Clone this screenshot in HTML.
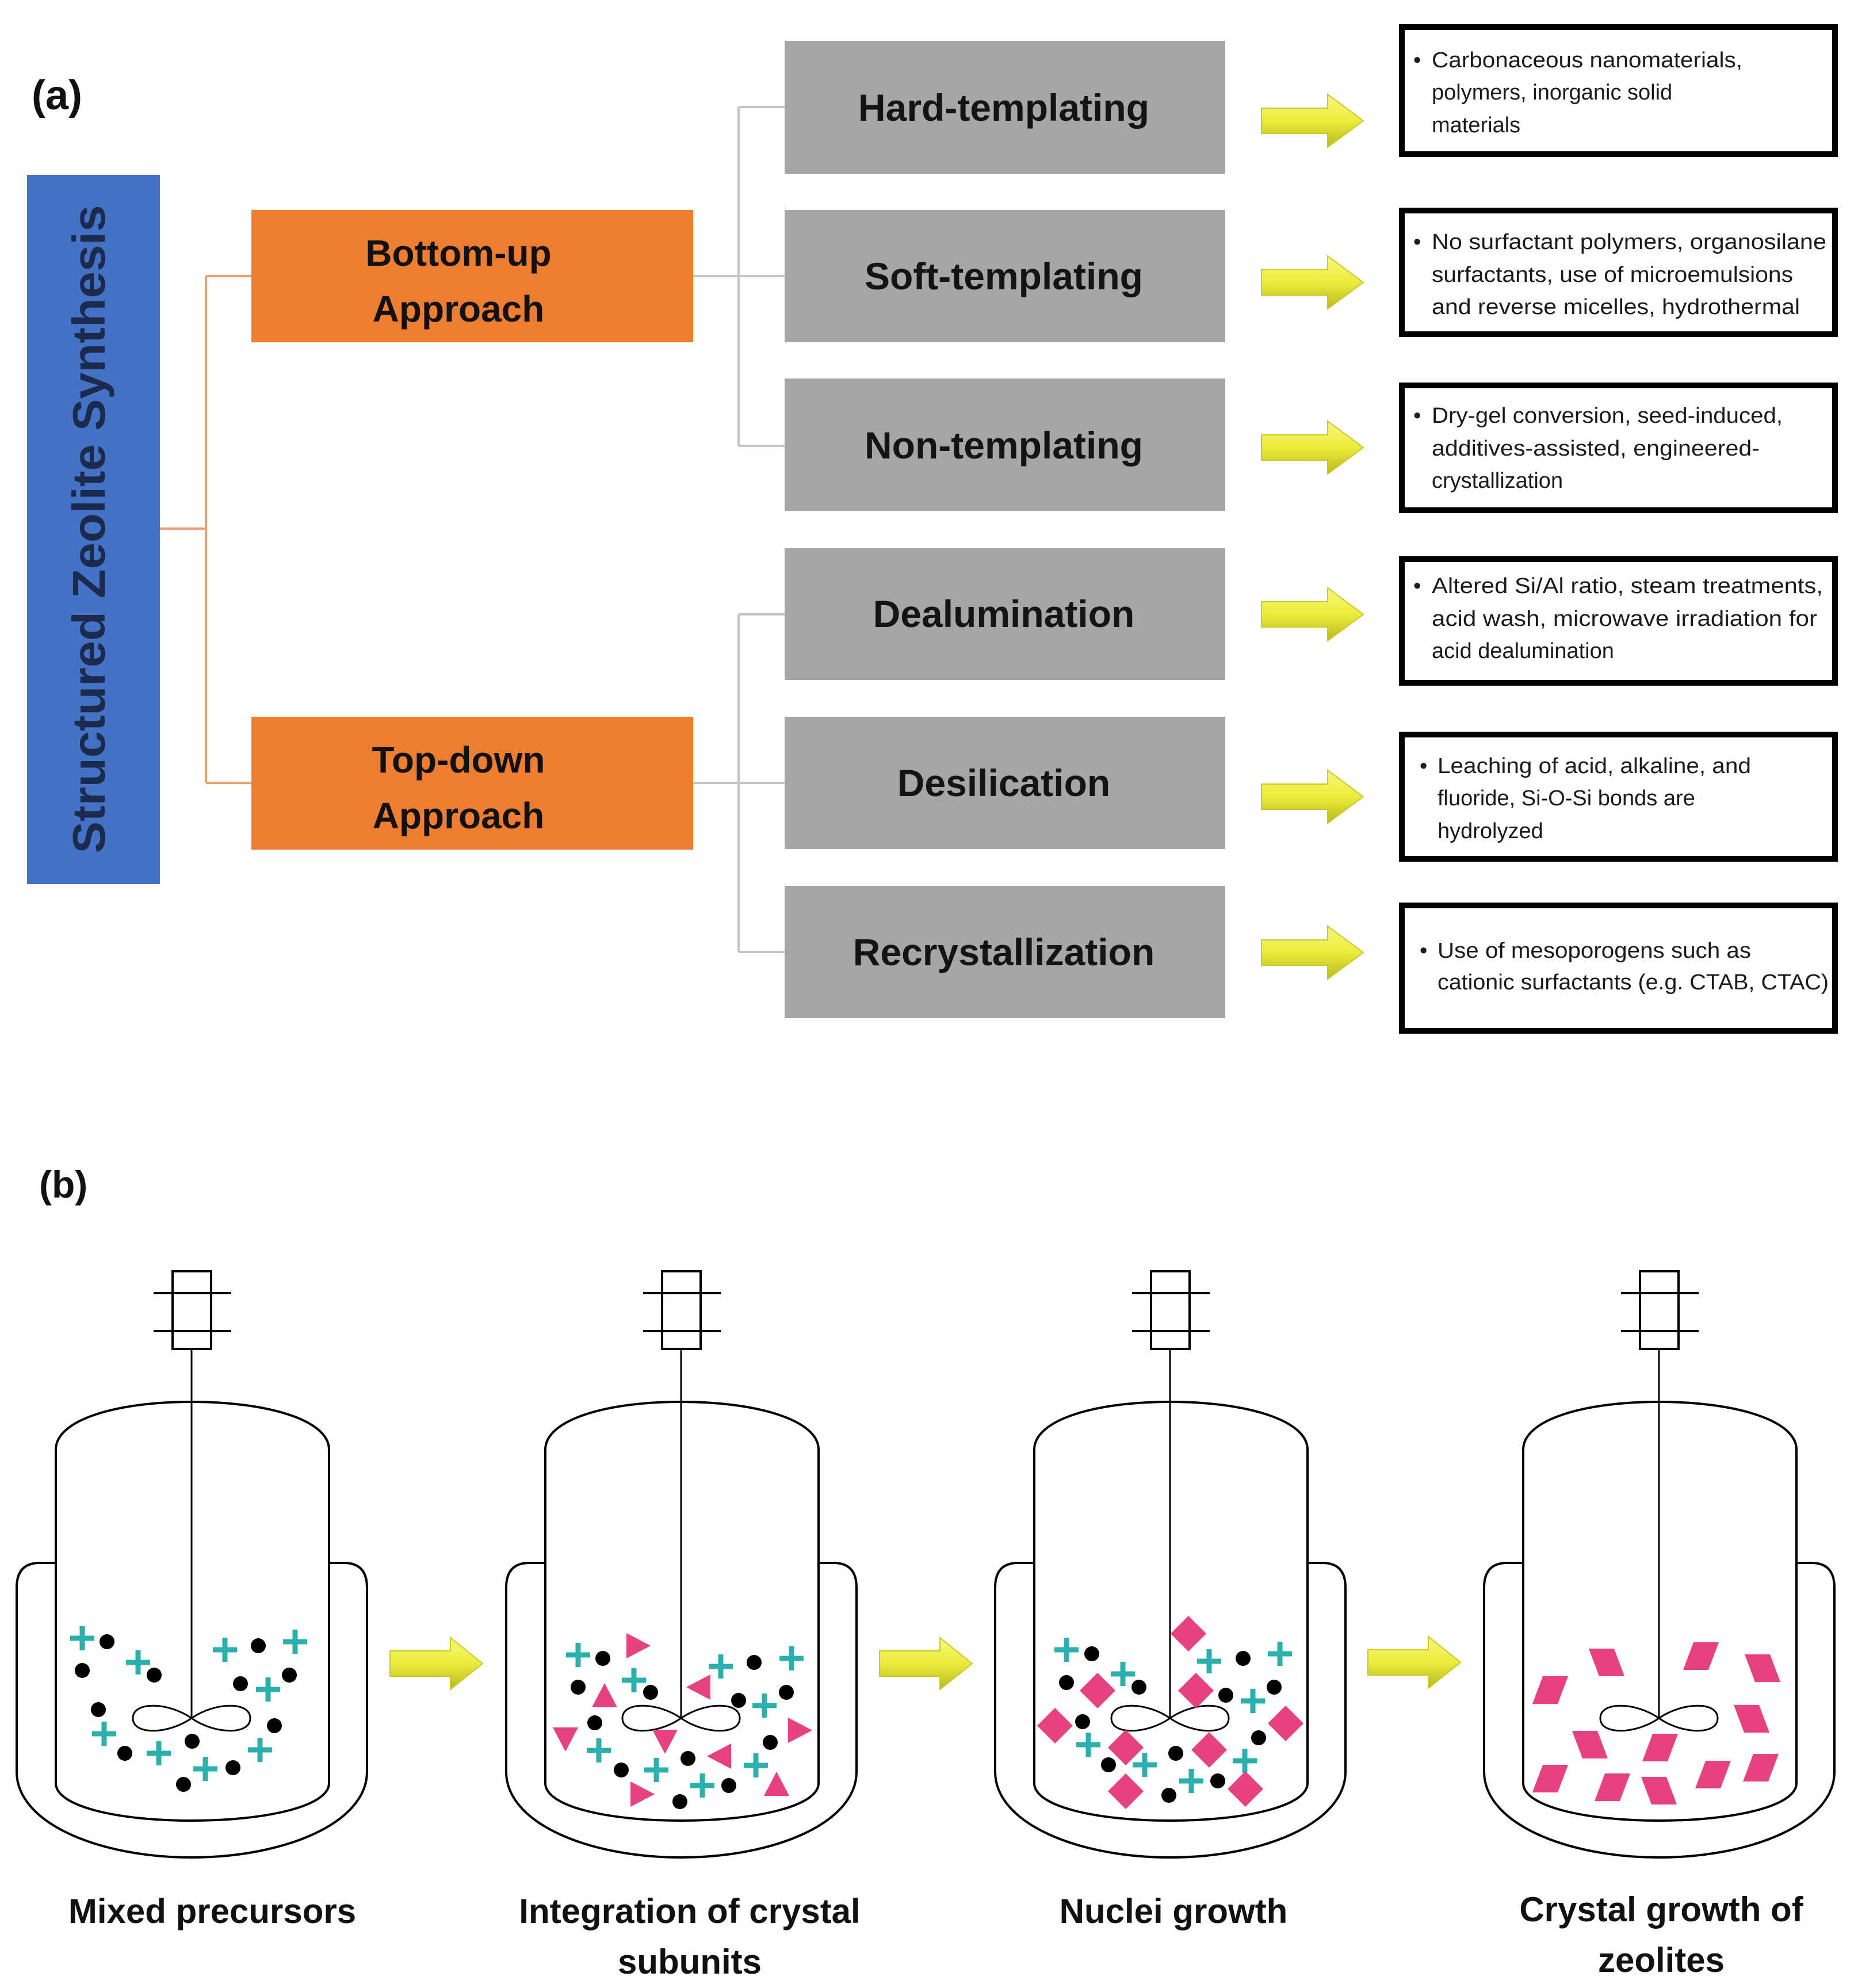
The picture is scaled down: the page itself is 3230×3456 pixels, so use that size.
<!DOCTYPE html>
<html><head><meta charset="utf-8"><style>html,body{margin:0;padding:0;background:#fff}svg{display:block}</style></head>
<body>
<svg xmlns="http://www.w3.org/2000/svg" width="3230" height="3456" viewBox="0 0 3230 3456" font-family="Liberation Sans, sans-serif">
<defs>
<linearGradient id="yg" x1="0" y1="0" x2="0" y2="1">
<stop offset="0" stop-color="#f7f77a"/><stop offset="0.5" stop-color="#ecec3c"/><stop offset="1" stop-color="#b8b820"/>
</linearGradient>
<path id="arT" d="M0,-22 H115 V-46 L177,0 L115,46 V22 H0 Z" fill="url(#yg)" stroke="#c9c92a" stroke-width="2"/>
<path id="arB" d="M0,-22 H105 V-45 L161,0 L105,45 V22 H0 Z" fill="url(#yg)" stroke="#c9c92a" stroke-width="2"/>
<g id="reactor" fill="none" stroke="#000" stroke-width="4">
<rect x="-33" y="2210" width="67" height="135" fill="#fff"/>
<line x1="-66" y1="2248" x2="69" y2="2248"/>
<line x1="-66" y1="2314" x2="69" y2="2314"/>
<line x1="0" y1="2345" x2="0" y2="2987" stroke-width="3"/>
<path d="M-236,3100 V2520 C-236,2468 -130,2437 0,2437 C130,2437 239,2468 239,2520 V3100 C239,3140 130,3165 0,3165 C-130,3165 -236,3140 -236,3100 Z"/>
<path d="M-236,2717 H-264 Q-304,2717 -304,2760 V3080 C-304,3170 -160,3229 0,3229 C160,3229 305,3170 305,3080 V2760 Q305,2717 265,2717 H239"/>
<path d="M0,2987 C-40,2959 -102,2957 -102,2987 C-102,3017 -40,3015 0,2987 C40,2959 102,2957 102,2987 C102,3017 40,3015 0,2987 Z" stroke-width="3"/>
</g>
<path id="pl" d="M-21,0 H21 M0,-21 V21" stroke="#2bb0ad" stroke-width="9" fill="none"/>
<circle id="dt" r="13" fill="#000"/>
<polygon id="tR" points="-18,-22 24,0 -18,22" fill="#e8417f"/>
<polygon id="tL" points="18,-22 -24,0 18,22" fill="#e8417f"/>
<polygon id="tU" points="-22,18 0,-24 22,18" fill="#e8417f"/>
<polygon id="tD" points="-22,-18 0,24 22,-18" fill="#e8417f"/>
<polygon id="dm" points="0,-31 31,0 0,31 -31,0" fill="#e8417f"/>
<polygon id="pf" points="-13,-24 31,-24 13,24 -31,24" fill="#e8417f"/>
<polygon id="pb" points="-31,-24 13,-24 31,24 -13,24" fill="#e8417f"/>
</defs>

<!-- (a) -->
<text x="55" y="190" font-size="72" font-weight="bold" fill="#111">(a)</text>

<!-- blue box -->
<rect x="47" y="304" width="231" height="1233" fill="#4472c4"/>
<text transform="translate(182,920) rotate(-90)" text-anchor="middle" font-size="80" font-weight="bold" fill="#1c2a4e" textLength="1127" lengthAdjust="spacingAndGlyphs">Structured Zeolite Synthesis</text>

<!-- orange connectors -->
<g stroke="#f0a070" stroke-width="4" fill="none">
<path d="M278,919 H358 M358,480 V1361 M358,480 H437 M358,1361 H437"/>
</g>
<rect x="437" y="365" width="768" height="230" fill="#ed7d31"/>
<rect x="437" y="1246" width="768" height="231" fill="#ed7d31"/>
<g font-size="64" font-weight="bold" fill="#111" text-anchor="middle">
<text x="797" y="462">Bottom-up</text><text x="797" y="559">Approach</text>
<text x="797" y="1343">Top-down</text><text x="797" y="1440">Approach</text>
</g>

<!-- gray connectors -->
<g stroke="#c4c4c4" stroke-width="4" fill="none">
<path d="M1205,480 H1364 M1284,186 V775 M1284,186 H1364 M1284,775 H1364"/>
<path d="M1205,1361 H1364 M1284,1068 V1655 M1284,1068 H1364 M1284,1655 H1364"/>
</g>
<g fill="#a6a6a6">
<rect x="1364" y="71" width="766" height="231"/>
<rect x="1364" y="365" width="766" height="230"/>
<rect x="1364" y="658" width="766" height="230"/>
<rect x="1364" y="953" width="766" height="229"/>
<rect x="1364" y="1246" width="766" height="230"/>
<rect x="1364" y="1540" width="766" height="230"/>
</g>
<g font-size="66" font-weight="bold" fill="#141414" text-anchor="middle">
<text x="1745" y="210">Hard-templating</text>
<text x="1745" y="503">Soft-templating</text>
<text x="1745" y="797">Non-templating</text>
<text x="1745" y="1090">Dealumination</text>
<text x="1745" y="1384">Desilication</text>
<text x="1745" y="1678">Recrystallization</text>
</g>

<!-- arrows top -->
<use href="#arT" x="2193" y="210"/>
<use href="#arT" x="2193" y="491"/>
<use href="#arT" x="2193" y="778"/>
<use href="#arT" x="2193" y="1068"/>
<use href="#arT" x="2193" y="1385"/>
<use href="#arT" x="2193" y="1656"/>

<!-- right boxes -->
<g fill="#fff" stroke="#000" stroke-width="10">
<rect x="2437" y="47" width="753" height="221"/>
<rect x="2437" y="366" width="753" height="215"/>
<rect x="2437" y="670" width="753" height="217"/>
<rect x="2437" y="972" width="753" height="215"/>
<rect x="2437" y="1277" width="753" height="216"/>
<rect x="2437" y="1574" width="753" height="218"/>
</g>
<g font-size="38" fill="#1a1a1a">
<text x="2457" y="117">•</text>
<text x="2489" y="117" textLength="540" lengthAdjust="spacingAndGlyphs">Carbonaceous nanomaterials,</text>
<text x="2489" y="173">polymers, inorganic solid</text>
<text x="2489" y="230">materials</text>

<text x="2457" y="433">•</text>
<text x="2489" y="433" textLength="686" lengthAdjust="spacingAndGlyphs">No surfactant polymers, organosilane</text>
<text x="2489" y="490" textLength="628" lengthAdjust="spacingAndGlyphs">surfactants, use of microemulsions</text>
<text x="2489" y="546" textLength="640" lengthAdjust="spacingAndGlyphs">and reverse micelles, hydrothermal</text>

<text x="2457" y="735">•</text>
<text x="2489" y="735" textLength="610" lengthAdjust="spacingAndGlyphs">Dry-gel conversion, seed-induced,</text>
<text x="2489" y="792" textLength="570" lengthAdjust="spacingAndGlyphs">additives-assisted, engineered-</text>
<text x="2489" y="848">crystallization</text>

<text x="2457" y="1031">•</text>
<text x="2489" y="1031" textLength="680" lengthAdjust="spacingAndGlyphs">Altered Si/Al ratio, steam treatments,</text>
<text x="2489" y="1088" textLength="670" lengthAdjust="spacingAndGlyphs">acid  wash, microwave irradiation for</text>
<text x="2489" y="1144">acid dealumination</text>

<text x="2468" y="1344">•</text>
<text x="2499" y="1344" textLength="545" lengthAdjust="spacingAndGlyphs">Leaching of acid, alkaline, and</text>
<text x="2499" y="1400">fluoride,  Si-O-Si bonds are</text>
<text x="2499" y="1457">hydrolyzed</text>

<text x="2468" y="1665">•</text>
<text x="2499" y="1665" textLength="545" lengthAdjust="spacingAndGlyphs">Use of mesoporogens such as</text>
<text x="2499" y="1720" textLength="680" lengthAdjust="spacingAndGlyphs">cationic surfactants (e.g. CTAB, CTAC)</text>
</g>

<!-- (b) -->
<text x="68" y="2082" font-size="66" font-weight="bold" fill="#111">(b)</text>

<!-- reactors -->
<use href="#reactor" x="333" y="0"/>
<use href="#reactor" x="1184" y="0"/>
<use href="#reactor" x="2034" y="0"/>
<use href="#reactor" x="2884" y="0"/>

<!-- bottom arrows -->
<use href="#arB" x="678" y="2892"/>
<use href="#arB" x="1529" y="2892"/>
<use href="#arB" x="2378" y="2890"/>

<!-- reactor 1 particles -->
<use href="#pl" x="143" y="2848"/><use href="#pl" x="240" y="2890"/><use href="#pl" x="391" y="2868"/><use href="#pl" x="513" y="2854"/><use href="#pl" x="466" y="2937"/><use href="#pl" x="181" y="3014"/><use href="#pl" x="276" y="3048"/><use href="#pl" x="357" y="3075"/><use href="#pl" x="452" y="3042"/>
<use href="#dt" x="186" y="2854"/><use href="#dt" x="143" y="2904"/><use href="#dt" x="268" y="2912"/><use href="#dt" x="449" y="2861"/><use href="#dt" x="418" y="2927"/><use href="#dt" x="503" y="2912"/><use href="#dt" x="171" y="2972"/><use href="#dt" x="477" y="3000"/><use href="#dt" x="334" y="3027"/><use href="#dt" x="217" y="3048"/><use href="#dt" x="405" y="3073"/><use href="#dt" x="319" y="3102"/>

<!-- reactor 2 particles -->
<use href="#pl" x="1005" y="2877"/><use href="#pl" x="1102" y="2921"/><use href="#pl" x="1253" y="2897"/><use href="#pl" x="1376" y="2883"/><use href="#pl" x="1329" y="2965"/><use href="#pl" x="1041" y="3043"/><use href="#pl" x="1141" y="3077"/><use href="#pl" x="1221" y="3104"/><use href="#pl" x="1314" y="3069"/>
<use href="#dt" x="1048" y="2883"/><use href="#dt" x="1005" y="2933"/><use href="#dt" x="1131" y="2942"/><use href="#dt" x="1311" y="2890"/><use href="#dt" x="1284" y="2956"/><use href="#dt" x="1367" y="2942"/><use href="#dt" x="1034" y="2995"/><use href="#dt" x="1339" y="3029"/><use href="#dt" x="1196" y="3057"/><use href="#dt" x="1080" y="3077"/><use href="#dt" x="1267" y="3104"/><use href="#dt" x="1182" y="3132"/>
<use href="#tR" x="1107" y="2861"/><use href="#tU" x="1051" y="2950"/><use href="#tL" x="1217" y="2933"/><use href="#tD" x="983" y="3021"/><use href="#tD" x="1156" y="3025"/><use href="#tR" x="1388" y="3008"/><use href="#tL" x="1253" y="3053"/><use href="#tR" x="1114" y="3119"/><use href="#tU" x="1350" y="3104"/>

<!-- reactor 3 particles -->
<use href="#pl" x="1854" y="2868"/><use href="#pl" x="1952" y="2910"/><use href="#pl" x="2102" y="2888"/><use href="#pl" x="2225" y="2875"/><use href="#pl" x="2178" y="2957"/><use href="#pl" x="1892" y="3033"/><use href="#pl" x="1990" y="3068"/><use href="#pl" x="2071" y="3096"/><use href="#pl" x="2164" y="3061"/>
<use href="#dt" x="1898" y="2875"/><use href="#dt" x="1854" y="2925"/><use href="#dt" x="1980" y="2933"/><use href="#dt" x="2161" y="2883"/><use href="#dt" x="2131" y="2947"/><use href="#dt" x="2215" y="2933"/><use href="#dt" x="1882" y="2993"/><use href="#dt" x="2188" y="3021"/><use href="#dt" x="2044" y="3048"/><use href="#dt" x="1927" y="3068"/><use href="#dt" x="2117" y="3096"/><use href="#dt" x="2032" y="3121"/>
<use href="#dm" x="2066" y="2840"/><use href="#dm" x="1908" y="2939"/><use href="#dm" x="2079" y="2939"/><use href="#dm" x="1834" y="3000"/><use href="#dm" x="2235" y="2996"/><use href="#dm" x="1957" y="3038"/><use href="#dm" x="2102" y="3042"/><use href="#dm" x="1957" y="3114"/><use href="#dm" x="2165" y="3110"/>

<!-- reactor 4 crystals -->
<use href="#pb" x="2793" y="2890"/><use href="#pf" x="2957" y="2879"/><use href="#pb" x="3064" y="2900"/><use href="#pf" x="2695" y="2938"/><use href="#pb" x="3045" y="2988"/><use href="#pb" x="2764" y="3033"/><use href="#pf" x="2886" y="3038"/><use href="#pf" x="2695" y="3092"/><use href="#pf" x="2803" y="3107"/><use href="#pb" x="2884" y="3113"/><use href="#pf" x="2978" y="3085"/><use href="#pf" x="3061" y="3073"/>

<!-- labels -->
<g font-size="60" font-weight="bold" fill="#111" text-anchor="middle">
<text x="369" y="3343">Mixed precursors</text>
<text x="1199" y="3343">Integration of crystal</text>
<text x="1199" y="3431">subunits</text>
<text x="2040" y="3343">Nuclei growth</text>
<text x="2888" y="3340">Crystal growth of</text>
<text x="2888" y="3428">zeolites</text>
</g>
</svg>
</body></html>
